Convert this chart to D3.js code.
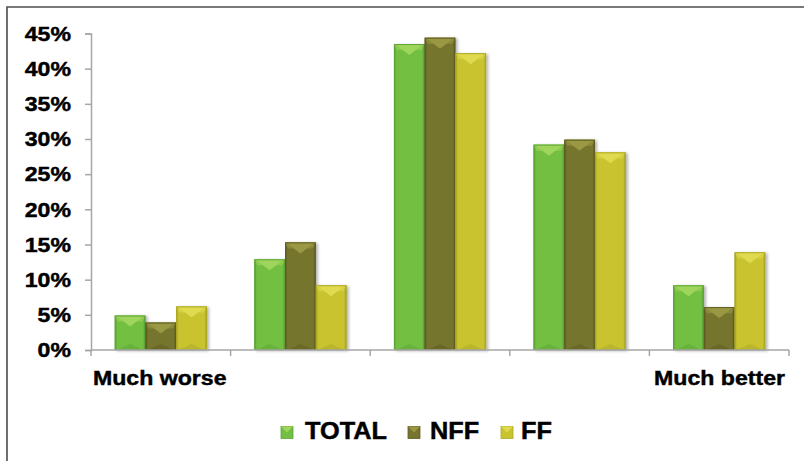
<!DOCTYPE html>
<html>
<head>
<meta charset="utf-8">
<script src="https://cdnjs.cloudflare.com/ajax/libs/d3/7.8.5/d3.min.js"></script>
<style>
  html, body { margin: 0; padding: 0; background: #fff; }
  svg { display: block; }
  text { font-family: "Liberation Sans", Arial, sans-serif; font-weight: bold; fill: #000; stroke: #000; stroke-width: 0.45px; }
</style>
</head>
<body>
<svg id="chart" width="804" height="461"></svg>
<script>
// Response categories (only the two ends carry a label on the axis)
const categories = ["Much worse", "Worse", "Same", "Better", "Much better"];
const categoryLabels = ["Much worse", "", "", "", "Much better"];

// Series shares, in percent
const seriesNames = ["TOTAL", "NFF", "FF"];
const totalValues = [4.9, 12.9, 43.5, 29.2, 9.2];
const nffValues   = [3.9, 15.3, 44.4, 29.9, 6.1];
const ffValues    = [6.2,  9.2, 42.2, 28.1, 13.9];
const yTicks = [0, 5, 10, 15, 20, 25, 30, 35, 40, 45];

const seriesValues = [totalValues, nffValues, ffValues];
const palette = {
  TOTAL: { base: "#72bf43", light: "#a0d55c", dark: "#4f9a2c", edge: "#5ea637" },
  NFF:   { base: "#76742e", light: "#9a9842", dark: "#55541e", edge: "#5f5e24" },
  FF:    { base: "#c8c32f", light: "#e0da50", dark: "#a09c20", edge: "#ada925" }
};

const svg = d3.select("#chart");
const plotLeft = 91, plotRight = 789, plotTop = 33.5, plotBottom = 350;

// Outer frame (top and left edges visible)
svg.append("path")
  .attr("d", "M7,461 L7,7 L804,7")
  .attr("fill", "none").attr("stroke", "#4d4d4d").attr("stroke-width", 1.6);

const defs = svg.append("defs");
const shadow = defs.append("filter").attr("id", "shadow")
  .attr("x", "-20%").attr("y", "-10%").attr("width", "150%").attr("height", "130%");
shadow.append("feDropShadow").attr("dx", 2).attr("dy", 1)
  .attr("stdDeviation", 1.6).attr("flood-color", "#000").attr("flood-opacity", 0.3);

seriesNames.forEach(name => {
  const c = palette[name];
  const g = defs.append("linearGradient").attr("id", "grad-" + name)
    .attr("x1", "0%").attr("x2", "100%").attr("y1", "0%").attr("y2", "0%");
  g.append("stop").attr("offset", "0%").attr("stop-color", c.dark);
  g.append("stop").attr("offset", "8%").attr("stop-color", c.base);
  g.append("stop").attr("offset", "92%").attr("stop-color", c.base);
  g.append("stop").attr("offset", "100%").attr("stop-color", c.dark);
});

const x = d3.scaleBand().domain(categories).range([plotLeft, plotRight]).paddingInner(0).paddingOuter(0);
const groupFrac = 0.66;
const x1 = d3.scaleBand().domain(seriesNames)
  .range([x.bandwidth() * (1 - groupFrac) / 2, x.bandwidth() * (1 + groupFrac) / 2]);
const y = d3.scaleLinear().domain([0, 45]).range([plotBottom, plotTop]);

// Draws one bevelled bar
function bevelBar(sel, name, bx, by, bw, bh) {
  const c = palette[name];
  const g = sel.append("g").attr("filter", "url(#shadow)");
  g.append("rect").attr("x", bx).attr("y", by).attr("width", bw).attr("height", bh)
    .attr("fill", `url(#grad-${name})`);
  const ch = Math.min(11, bh / 2);
  g.append("path")
    .attr("d", `M${bx},${by} L${bx + bw},${by} L${bx + bw - 3},${by + ch * 0.55} L${bx + 3},${by + ch * 0.55} Z`)
    .attr("fill", c.light).attr("opacity", 0.6);
  g.append("path")
    .attr("d", `M${bx + 1},${by} L${bx + bw - 1},${by} L${bx + bw / 2},${by + ch} Z`)
    .attr("fill", c.light);
  const bc = Math.min(6, bh / 3);
  g.append("path")
    .attr("d", `M${bx + 2},${by + bh} L${bx + bw / 2},${by + bh - bc} L${bx + bw - 2},${by + bh} Z`)
    .attr("fill", c.dark).attr("opacity", 0.35);
  g.append("rect").attr("x", bx + 0.5).attr("y", by + 0.5).attr("width", bw - 1).attr("height", Math.max(0, bh - 1))
    .attr("fill", "none").attr("stroke", c.edge).attr("stroke-width", 1);
}

// Bars
const barsLayer = svg.append("g");
categories.forEach((cat, i) => {
  seriesNames.forEach((name, s) => {
    const v = seriesValues[s][i];
    const bx = x(cat) + x1(name);
    bevelBar(barsLayer, name, bx, y(v), x1.bandwidth(), y(0) - y(v));
  });
});

// Y axis
const yAxis = svg.append("g").attr("transform", `translate(${plotLeft},0)`)
  .call(d3.axisLeft(y).tickValues(yTicks).tickFormat(d => d + "%").tickSize(6).tickPadding(14));
yAxis.select(".domain").attr("stroke", "#a6a6a6").attr("stroke-width", 1.5);
yAxis.selectAll(".tick line").attr("stroke", "#a6a6a6").attr("stroke-width", 1.5);
yAxis.selectAll(".tick text").attr("font-size", 21).attr("font-family", null).attr("fill", "#000");

// X axis: baseline with ticks at category boundaries
const xg = svg.append("g");
xg.append("line").attr("x1", plotLeft).attr("x2", plotRight).attr("y1", plotBottom).attr("y2", plotBottom)
  .attr("stroke", "#a6a6a6").attr("stroke-width", 1.5);
const boundaries = categories.map(c => x(c)).concat([x(categories[categories.length - 1]) + x.bandwidth()]);
xg.selectAll("line.tk").data(boundaries).join("line").attr("class", "tk")
  .attr("x1", d => d).attr("x2", d => d).attr("y1", plotBottom).attr("y2", plotBottom + 6)
  .attr("stroke", "#a6a6a6").attr("stroke-width", 1.5);
categories.forEach((cat, i) => {
  const label = categoryLabels[i];
  if (!label) return;
  const isFirst = i === 0;
  xg.append("text").attr("class", "wide")
    .attr("x", isFirst ? x(cat) + 2 : x(cat) + x.bandwidth() - 4)
    .attr("y", 385).attr("font-size", 21)
    .attr("text-anchor", isFirst ? "start" : "end")
    .text(label);
});

// Legend
const legendItems = [
  { name: "TOTAL", sx: 281, tx: 305 },
  { name: "NFF", sx: 408, tx: 430 },
  { name: "FF", sx: 501, tx: 521 }
];
const lg = svg.append("g");
legendItems.forEach(it => {
  const c = palette[it.name];
  lg.append("rect").attr("x", it.sx).attr("y", 426.5).attr("width", 12).attr("height", 12)
    .attr("fill", c.base).attr("stroke", c.edge).attr("stroke-width", 0.8);
  lg.append("path").attr("d", `M${it.sx},${426.5} L${it.sx + 12},${426.5} L${it.sx + 6},${432.5} Z`)
    .attr("fill", c.light);
  lg.append("text").attr("class", "wide").attr("x", it.tx).attr("y", 438.5)
    .attr("font-size", 23).text(it.name);
});

// Horizontal stretch of bold labels
yAxis.selectAll(".tick text").classed("wide", true);
svg.selectAll("text.wide").each(function () {
  const len = this.getComputedTextLength();
  d3.select(this).attr("textLength", len * 1.1).attr("lengthAdjust", "spacingAndGlyphs");
});
</script>
</body>
</html>
